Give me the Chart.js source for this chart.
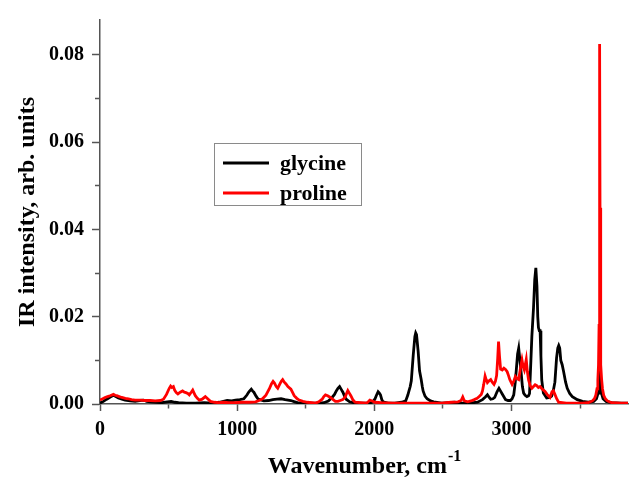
<!DOCTYPE html>
<html>
<head>
<meta charset="utf-8">
<script src="https://cdn.jsdelivr.net/npm/chart.js@4.4.1/dist/chart.umd.min.js"></script>
<style>
  html, body { margin: 0; padding: 0; background: #fff; }
</style>
</head>
<body>
<canvas id="irChart" width="629" height="477"></canvas>
<script>
// spectra (wavenumber in cm-1, intensity in arb. units)
const glycineWn = [0, 25, 49, 75, 98, 115, 134, 160, 183, 220, 256, 290, 317, 340, 366, 410, 451, 490, 519, 545, 573, 630, 695, 760, 817, 870, 927, 960, 988, 1020, 1049, 1070, 1086, 1103, 1112, 1122, 1138, 1154, 1195, 1230, 1260, 1290, 1320, 1350, 1392, 1420, 1440, 1490, 1536, 1600, 1632, 1665, 1692, 1710, 1723, 1735, 1747, 1760, 1771, 1783, 1795, 1820, 1848, 1900, 1968, 1990, 2004, 2016, 2028, 2037, 2045, 2055, 2064, 2100, 2150, 2200, 2229, 2244, 2253, 2262, 2270, 2284, 2296, 2302, 2308, 2320, 2330, 2342, 2350, 2356, 2370, 2385, 2410, 2433, 2493, 2540, 2585, 2630, 2681, 2720, 2753, 2789, 2810, 2825, 2838, 2849, 2865, 2878, 2895, 2909, 2920, 2933, 2957, 2975, 2993, 3005, 3017, 3028, 3036, 3045, 3053, 3062, 3070, 3080, 3089, 3100, 3113, 3125, 3132, 3142, 3149, 3161, 3170, 3178, 3186, 3192, 3197, 3203, 3209, 3215, 3221, 3233, 3257, 3280, 3293, 3305, 3317, 3329, 3338, 3345, 3352, 3360, 3370, 3380, 3395, 3407, 3425, 3444, 3480, 3518, 3560, 3600, 3620, 3632, 3638, 3642, 3644, 3646, 3650, 3656, 3668, 3690, 3730, 3800, 3850];
const glycineI = [0.0002, 0.0006, 0.0011, 0.0016, 0.0020, 0.0017, 0.0014, 0.0011, 0.0009, 0.0007, 0.0006, 0.0008, 0.0009, 0.0006, 0.0005, 0.0004, 0.0003, 0.0005, 0.0006, 0.0004, 0.0003, 0.0002, 0.0002, 0.0003, 0.0002, 0.0004, 0.0008, 0.0007, 0.0009, 0.0010, 0.0012, 0.0020, 0.0028, 0.0034, 0.0030, 0.0027, 0.0018, 0.0011, 0.0007, 0.0008, 0.0010, 0.0011, 0.0012, 0.0010, 0.0008, 0.0005, 0.0003, 0.0002, 0.0002, 0.0002, 0.0003, 0.0007, 0.0015, 0.0022, 0.0030, 0.0036, 0.0040, 0.0033, 0.0027, 0.0018, 0.0011, 0.0005, 0.0003, 0.0002, 0.0002, 0.0005, 0.0011, 0.0020, 0.0028, 0.0025, 0.0021, 0.0010, 0.0005, 0.0002, 0.0002, 0.0004, 0.0007, 0.0020, 0.0030, 0.0040, 0.0053, 0.0112, 0.0155, 0.0163, 0.0159, 0.0120, 0.0076, 0.0056, 0.0040, 0.0030, 0.0018, 0.0012, 0.0007, 0.0005, 0.0002, 0.0003, 0.0004, 0.0002, 0.0002, 0.0003, 0.0004, 0.0010, 0.0016, 0.0021, 0.0015, 0.0011, 0.0012, 0.0015, 0.0028, 0.0036, 0.0030, 0.0023, 0.0010, 0.0008, 0.0008, 0.0012, 0.0021, 0.0050, 0.0080, 0.0115, 0.0128, 0.0100, 0.0075, 0.0040, 0.0025, 0.0020, 0.0017, 0.0019, 0.0024, 0.0100, 0.0155, 0.0220, 0.0285, 0.0312, 0.0270, 0.0200, 0.0175, 0.0168, 0.0168, 0.0110, 0.0055, 0.0025, 0.0014, 0.0015, 0.0018, 0.0030, 0.0050, 0.0105, 0.0128, 0.0134, 0.0128, 0.0100, 0.0090, 0.0075, 0.0050, 0.0036, 0.0024, 0.0017, 0.0010, 0.0006, 0.0004, 0.0006, 0.0012, 0.0025, 0.0050, 0.0075, 0.0082, 0.0075, 0.0050, 0.0025, 0.0012, 0.0006, 0.0003, 0.0002, 0.0002];

const prolineWn = [0, 20, 37, 55, 73, 98, 110, 122, 140, 159, 185, 207, 230, 256, 290, 329, 365, 403, 440, 463, 485, 505, 515, 524, 535, 544, 556, 568, 585, 602, 615, 627, 640, 651, 665, 676, 686, 695, 710, 724, 745, 768, 785, 805, 835, 866, 900, 939, 980, 1037, 1090, 1134, 1160, 1185, 1210, 1235, 1250, 1262, 1272, 1285, 1296, 1310, 1322, 1332, 1344, 1356, 1370, 1392, 1405, 1416, 1435, 1452, 1480, 1512, 1545, 1572, 1595, 1620, 1632, 1644, 1660, 1680, 1700, 1716, 1735, 1752, 1770, 1788, 1800, 1807, 1818, 1829, 1845, 1860, 1900, 1944, 1956, 1968, 1985, 2004, 2050, 2136, 2250, 2376, 2489, 2561, 2610, 2633, 2645, 2657, 2681, 2705, 2729, 2750, 2765, 2780, 2789, 2798, 2808, 2816, 2825, 2837, 2849, 2860, 2873, 2883, 2892, 2900, 2906, 2913, 2921, 2933, 2945, 2957, 2969, 2979, 2988, 3005, 3017, 3029, 3041, 3053, 3065, 3077, 3086, 3094, 3101, 3108, 3116, 3125, 3137, 3149, 3161, 3173, 3185, 3197, 3209, 3225, 3245, 3260, 3281, 3296, 3306, 3317, 3330, 3344, 3400, 3452, 3520, 3560, 3590, 3605, 3615, 3624, 3630, 3635, 3639, 3642, 3644, 3646, 3649, 3653, 3658, 3664, 3673, 3685, 3700, 3730, 3800, 3850];
const prolineI = [0.0009, 0.0012, 0.0015, 0.0017, 0.0019, 0.0022, 0.0020, 0.0019, 0.0017, 0.0015, 0.0013, 0.0012, 0.0010, 0.0009, 0.0009, 0.0008, 0.0008, 0.0007, 0.0008, 0.0011, 0.0022, 0.0036, 0.0041, 0.0038, 0.0040, 0.0032, 0.0026, 0.0023, 0.0027, 0.0030, 0.0027, 0.0026, 0.0024, 0.0021, 0.0027, 0.0032, 0.0025, 0.0019, 0.0013, 0.0009, 0.0011, 0.0017, 0.0012, 0.0006, 0.0004, 0.0003, 0.0004, 0.0003, 0.0003, 0.0004, 0.0004, 0.0005, 0.0008, 0.0012, 0.0020, 0.0035, 0.0046, 0.0052, 0.0048, 0.0040, 0.0036, 0.0045, 0.0052, 0.0056, 0.0050, 0.0046, 0.0040, 0.0034, 0.0026, 0.0019, 0.0013, 0.0009, 0.0006, 0.0004, 0.0003, 0.0002, 0.0005, 0.0011, 0.0017, 0.0021, 0.0019, 0.0015, 0.0010, 0.0006, 0.0006, 0.0008, 0.0010, 0.0016, 0.0026, 0.0031, 0.0025, 0.0019, 0.0009, 0.0004, 0.0003, 0.0002, 0.0005, 0.0009, 0.0007, 0.0004, 0.0003, 0.0002, 0.0002, 0.0002, 0.0002, 0.0004, 0.0005, 0.0008, 0.0016, 0.0007, 0.0005, 0.0007, 0.0010, 0.0013, 0.0017, 0.0022, 0.0030, 0.0045, 0.0064, 0.0056, 0.0049, 0.0053, 0.0056, 0.0050, 0.0045, 0.0052, 0.0065, 0.0105, 0.0143, 0.0110, 0.0080, 0.0078, 0.0082, 0.0079, 0.0074, 0.0065, 0.0056, 0.0045, 0.0052, 0.0063, 0.0058, 0.0056, 0.0080, 0.0101, 0.0085, 0.0078, 0.0090, 0.0102, 0.0075, 0.0055, 0.0042, 0.0036, 0.0040, 0.0044, 0.0042, 0.0038, 0.0040, 0.0034, 0.0029, 0.0022, 0.0015, 0.0028, 0.0030, 0.0022, 0.0012, 0.0004, 0.0002, 0.0002, 0.0002, 0.0003, 0.0007, 0.0012, 0.0020, 0.0035, 0.0055, 0.0090, 0.0180, 0.0450, 0.0825, 0.0450, 0.0180, 0.0090, 0.0055, 0.0035, 0.0020, 0.0012, 0.0007, 0.0003, 0.0002, 0.0002];

const seriesNames = ['glycine', 'proline'];
const seriesColors = ['#000000', '#ff0000'];

// tick positions: labelled majors plus unlabelled minors
const xTickValues = [0, 500, 1000, 1500, 2000, 2500, 3000, 3500];
const xTickLabels = ['0', '', '1000', '', '2000', '', '3000', ''];
const yTickValues = [0, 0.01, 0.02, 0.03, 0.04, 0.05, 0.06, 0.07, 0.08];
const yTickLabels = ['0.00', '', '0.02', '', '0.04', '', '0.06', '', '0.08'];

const xMax = 3850;
const yMax = 0.088;

const serif = '"Liberation Serif", "Times New Roman", serif';
const axisColor = '#555555';

const toPoints = (xs, ys) => xs.map((x, i) => ({ x: x, y: ys[i] }));

// legend box drawn inside the plot, like the original
const legendBox = {
    id: 'legendBox',
    afterDraw(chart) {
        const ctx = chart.ctx;
        ctx.save();
        ctx.strokeStyle = '#8a8a8a';
        ctx.lineWidth = 1;
        ctx.strokeRect(214.5, 143.5, 147, 62);
        ctx.font = 'bold 22px ' + serif;
        ctx.textBaseline = 'middle';
        chart.data.datasets.forEach((ds, i) => {
            const y = 163 + i * 30;
            ctx.strokeStyle = ds.borderColor;
            ctx.lineWidth = 2.8;
            ctx.beginPath();
            ctx.moveTo(223, y);
            ctx.lineTo(269, y);
            ctx.stroke();
            ctx.fillStyle = '#000';
            ctx.fillText(ds.label, 280, y + 1);
        });
        ctx.restore();
    }
};

// x axis title with superscript
const xTitle = {
    id: 'xTitle',
    afterDraw(chart) {
        const ctx = chart.ctx;
        const main = 'Wavenumber, cm';
        const sup = '-1';
        ctx.save();
        ctx.fillStyle = '#000';
        ctx.textBaseline = 'alphabetic';
        ctx.font = 'bold 24px ' + serif;
        const w1 = ctx.measureText(main).width;
        ctx.font = 'bold 16px ' + serif;
        const w2 = ctx.measureText(sup).width;
        const x0 = 364 - (w1 + w2) / 2;
        ctx.font = 'bold 24px ' + serif;
        ctx.fillText(main, x0, 473);
        ctx.font = 'bold 16px ' + serif;
        ctx.fillText(sup, x0 + w1 + 1, 461);
        ctx.restore();
    }
};

const ctx = document.getElementById('irChart');
new Chart(ctx, {
    type: 'line',
    data: {
        datasets: [
            {
                label: seriesNames[0],
                data: toPoints(glycineWn, glycineI),
                borderColor: seriesColors[0],
                order: 1
            },
            {
                label: seriesNames[1],
                data: toPoints(prolineWn, prolineI),
                borderColor: seriesColors[1],
                order: 0
            }
        ]
    },
    options: {
        responsive: false,
        animation: false,
        layout: { padding: { top: 15, right: 1, left: 0, bottom: 0 } },
        elements: {
            point: { radius: 0 },
            line: { borderWidth: 2.8, tension: 0 }
        },
        plugins: {
            legend: { display: false },
            tooltip: { enabled: false }
        },
        scales: {
            x: {
                type: 'linear',
                min: 0,
                max: xMax,
                afterBuildTicks: s => { s.ticks = xTickValues.map(v => ({ value: v })); },
                afterFit: s => { s.height = 73; },
                border: { color: axisColor, width: 1.5 },
                grid: {
                    drawOnChartArea: false,
                    tickLength: 7,
                    tickColor: axisColor,
                    tickWidth: 1.5,
                    // minor ticks shorter
                    tickBorderDash: c => (c.tick && c.index % 2 === 1) ? [4, 20] : []
                },
                ticks: {
                    autoSkip: false,
                    maxRotation: 0,
                    padding: 7,
                    color: '#000',
                    font: { family: serif, weight: 'bold', size: 20 },
                    callback: (v, i) => xTickLabels[i]
                }
            },
            y: {
                min: 0,
                max: yMax,
                afterBuildTicks: s => { s.ticks = yTickValues.map(v => ({ value: v })); },
                afterFit: s => { s.width = 100; },
                border: { color: axisColor, width: 1.5 },
                grid: {
                    drawOnChartArea: false,
                    tickLength: 8,
                    tickColor: axisColor,
                    tickWidth: 1.5,
                    tickBorderDash: c => (c.tick && c.index % 2 === 1) ? [0, 3, 5, 20] : []
                },
                ticks: {
                    autoSkip: false,
                    padding: 8,
                    color: '#000',
                    font: { family: serif, weight: 'bold', size: 20 },
                    callback: (v, i) => yTickLabels[i]
                },
                title: {
                    display: true,
                    text: 'IR intensity, arb. units',
                    color: '#000',
                    font: { family: serif, weight: 'bold', size: 24 },
                    padding: { top: 13, bottom: 0 }
                }
            }
        }
    },
    plugins: [legendBox, xTitle]
});
</script>
</body>
</html>
